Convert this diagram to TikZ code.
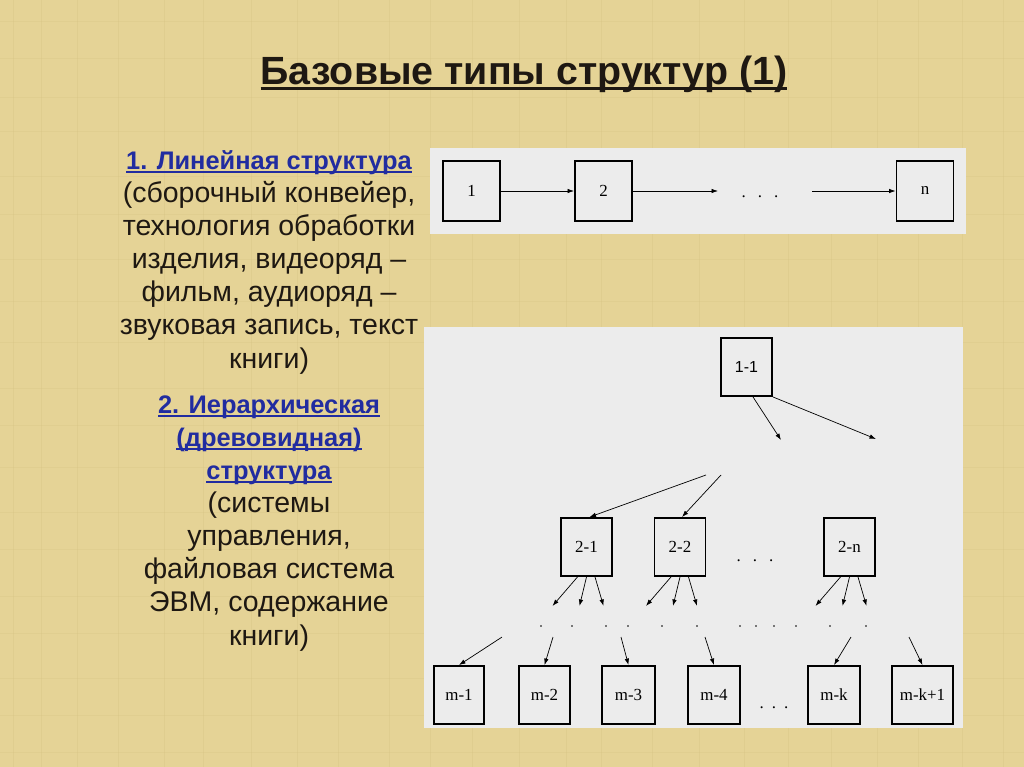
\documentclass[tikz,border=0pt]{standalone}
\usepackage{fontspec}
\setmainfont{Liberation Sans}
\newfontfamily\boxfont{Liberation Serif}
\usetikzlibrary{positioning,arrows.meta,calc}
\definecolor{slBack}{RGB}{229,211,150}
\definecolor{slLine}{RGB}{208,188,124}
\definecolor{slPanel}{RGB}{236,236,236}
\definecolor{slBlue}{RGB}{33,44,160}
\definecolor{slInk}{RGB}{30,24,18}
% underline at a fixed depth below the baseline
\newcommand{\ulin}[2][black]{\setbox0\hbox{#2}\rlap{\color{#1}\rule[-0.12em]{\wd0}{0.07em}}\box0}
% blue underlined heading of the left column
\newcommand{\headln}[1]{\textcolor{slBlue}{\fontsize{25.5}{33.2}\bfseries\ulin[slBlue]{#1}}}

\begin{document}
\begin{tikzpicture}[
    x=1bp, y=-1bp,
    panel/.style={fill=slPanel, draw=none},
    sbox/.style={rectangle, draw=black, line width=1.9bp, fill=slPanel, minimum width=51bp, minimum height=58bp, inner sep=1bp, font=\boxfont\fontsize{17}{20}\selectfont},
    arr/.style={-{Latex[length=6.5bp,width=4.5bp]}, line width=0.7bp},
    dots/.style={font=\boxfont\fontsize{17}{20}\selectfont, inner sep=0},
    body/.style={align=center, inner sep=0, text=slInk, font=\fontsize{28.6}{33.2}\selectfont}
]
  % background
  \fill[slBack] (0,0) rectangle (1024,767);
  \useasboundingbox (0,0) rectangle (1024,767);
  \foreach \xx in {13,41,77,118,164,203,251,297,338,389,430,472,519,566,601,652,699,744,788,831,877,918,962,1003}
    \draw[slLine, opacity=0.25, line width=0.9bp] (\xx,0) -- (\xx,767);
  \foreach \yy in {21,58,97,131,176,214,259,301,342,388,425,467,512,549,596,633,678,715,752}
    \draw[slLine, opacity=0.2, line width=0.8bp] (0,\yy) -- (1024,\yy);

  % title and left column
  \node[anchor=base, text=slInk, font=\bfseries\fontsize{39.5}{44}\selectfont] (title) at (524,85) {\ulin[slInk]{Базовые типы структур (1)}};
  \node[body, anchor=base] (txtlin) at (269,368) {\headln{1. Линейная структура}\\
    (сборочный конвейер,\\ технология обработки\\ изделия, видеоряд –\\ фильм, аудиоряд –\\ звуковая запись, текст\\ книги)};
  \node[body, anchor=base] (txttree) at (269,645) {\headln{2. Иерархическая}\\
    \headln{(древовидная)}\\
    \headln{структура}\\
    (системы\\ управления,\\ файловая система\\ ЭВМ, содержание\\ книги)};

  % linear structure
  \fill[panel] (430,148) rectangle (966,234);
  \node[sbox, minimum width=57bp, minimum height=60bp] (lin1) at (471.5,191) {1};
  \node[sbox, minimum width=57bp, minimum height=60bp] (lin2) at (603.5,191) {2};
  \node[sbox, minimum width=57bp, minimum height=60bp] (linn) at (925,191) {n};
  \coordinate (linA) at (718,191);
  \coordinate (linB) at (812,191);
  \node[dots, anchor=base] (lindots) at (760,197) {.\hspace{12bp}.\hspace{12bp}.};
  \draw[arr] (lin1) -- (lin2);
  \draw[arr] (lin2) -- (linA);
  \draw[arr] (linB) -- (linn);

  % hierarchical structure
  \fill[panel] (424,327) rectangle (963,728);
  \node[sbox, font=\fontsize{16}{20}\selectfont] (t11) at (746.5,367) {1-1};
  \coordinate (t11a) at (781,440);
  \coordinate (t11b) at (876,439);
  \draw[arr] ($(t11.south)+(6.5,0)$) -- (t11a);
  \draw[arr] (t11.south east) -- (t11b);

  \node[sbox] (t21) at (586.5,547) {2-1};
  \node[sbox] (t22) at (680,547) {2-2};
  \node[sbox] (t2n) at (849.5,547) {2-n};
  \node[dots, anchor=base] (t2dots) at (755,561) {.\hspace{12bp}.\hspace{12bp}.};
  \coordinate (t21in) at (706,475);
  \coordinate (t22in) at (721,475);
  \draw[arr] (t21in) -- ($(t21.north)+(3,0)$);
  \draw[arr] (t22in) -- ($(t22.north)+(2,0)$);
  \foreach \tn in {t21,t22,t2n}
    \foreach \sx/\ex [count=\i] in {-9/-34, 0/-7, 8.5/17} {
      \coordinate (\tn-\i) at ($(\tn.south)+(\ex,29)$);
      \draw[arr] ($(\tn.south)+(\sx,0)$) -- (\tn-\i);
    }
  \foreach \xx in {541,572,606,628,662,697,740,756,774,796,830,866}
    \fill (\xx,626) circle (0.8);

  \node[sbox, minimum width=50bp] (tm1) at (459,695) {m-1};
  \node[sbox] (tm2) at (544.5,695) {m-2};
  \node[sbox, minimum width=53bp] (tm3) at (628.5,695) {m-3};
  \node[sbox, minimum width=52bp] (tm4) at (714,695) {m-4};
  \node[sbox, minimum width=52bp] (tmk) at (834,695) {m-k};
  \node[sbox, minimum width=61bp] (tmk1) at (922.5,695) {m-k+1};
  \node[dots, anchor=base] (tmdots) at (774,708) {.\hspace{8bp}.\hspace{8bp}.};
  \foreach \tn/\dx in {tm1/43, tm2/8.5, tm3/-7.5, tm4/-9, tmk/17, tmk1/-13.5} {
    \coordinate (\tn-in) at ($(\tn.north)+(\dx,-28)$);
    \draw[arr] (\tn-in) -- (\tn.north);
  }
\end{tikzpicture}
\end{document}
